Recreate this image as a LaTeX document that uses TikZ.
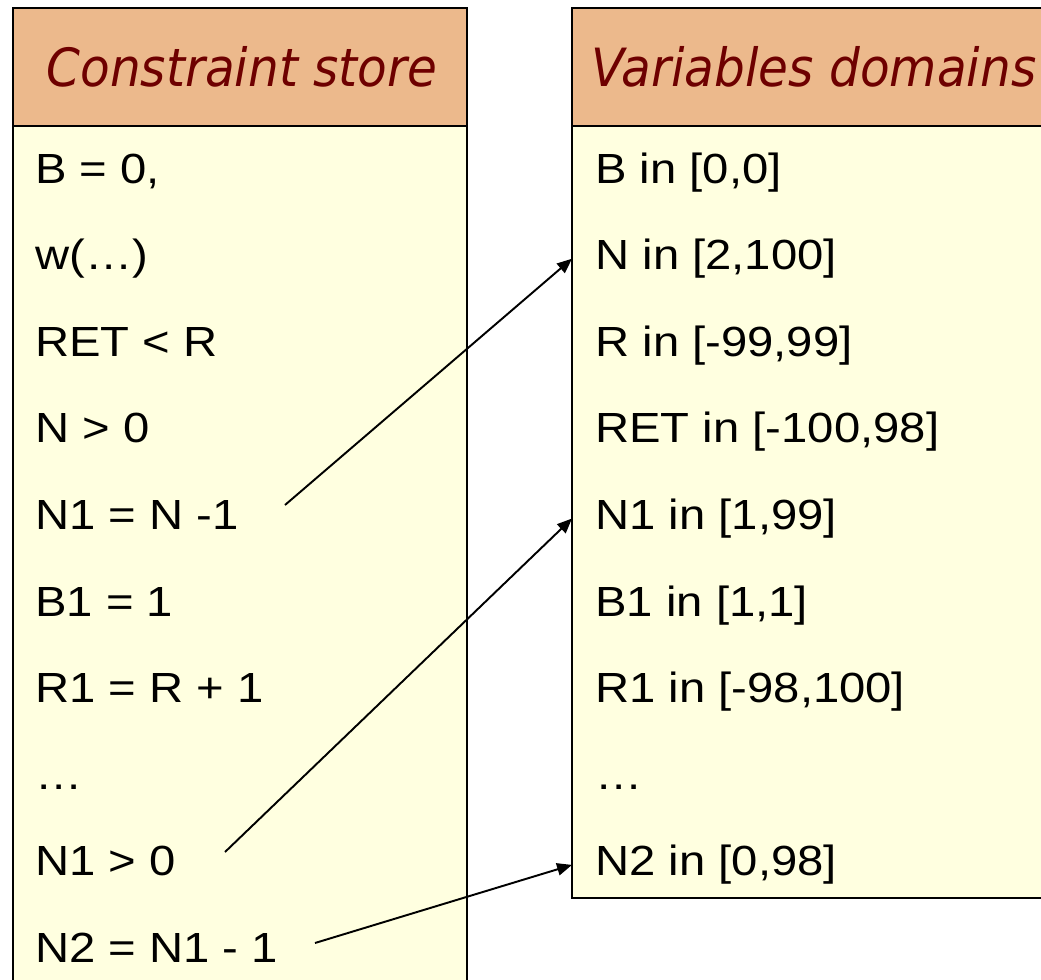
\documentclass[tikz,border=0pt]{standalone}
\usepackage{fontspec}
\setmainfont[FakeStretch=1.12]{Liberation Sans}
\newfontfamily\headfont[FakeStretch=0.92]{DejaVu Sans}
\usetikzlibrary{arrows.meta, positioning}

\definecolor{headfill}{RGB}{236,185,140}
\definecolor{bodyfill}{RGB}{255,255,224}
\definecolor{headtext}{RGB}{110,0,0}

\tikzset{
  cell/.style={anchor=base west, inner sep=0pt, font=\fontsize{24}{29}\selectfont},
  head/.style={inner sep=0pt, text=headtext, font=\headfont\itshape\fontsize{30}{36}\selectfont},
  link/.style={line width=1.1pt, -{Triangle[length=8.5pt,width=7pt]}}
}

\begin{document}
\begin{tikzpicture}[x=0.02cm, y=-0.02cm]
\useasboundingbox (0,0) rectangle (1041,980);
\clip (0,0) rectangle (1041,980);
% the two tables
\fill [headfill] (13,8) rectangle (467,126);
\fill [bodyfill] (13,126) rectangle (467,1000);
\draw [line width=1.1pt] (13,8) rectangle (467,1000);
\draw [line width=1.1pt] (13,126) -- (467,126);
\fill [headfill] (572,8) rectangle (1060,126);
\fill [bodyfill] (572,126) rectangle (1060,898);
\draw [line width=1.1pt] (572,8) rectangle (1060,898);
\draw [line width=1.1pt] (572,126) -- (1060,126);
\coordinate (domleft) at (572,126);
\node (storehead) at (242,67) [head] {Constraint store};
\node (domhead) at (814,67) [head] {Variables domains};
% constraint store rows
\node (s0) at (35,183.0) [cell] {B = 0,};
\node (s1) at (35,269.6) [cell] {w(…)};
\node (s2) at (35,356.2) [cell] {RET < R};
\node (s3) at (35,442.8) [cell] {N > 0};
\node (s4) at (35,529.4) [cell] {N1 = N -1};
\node (s5) at (35,616.0) [cell] {B1 = 1};
\node (s6) at (35,702.6) [cell] {R1 = R + 1};
\node (s7) at (35,789.2) [cell] {…};
\node (s8) at (35,875.8) [cell] {N1 > 0};
\node (s9) at (35,962.4) [cell] {N2 = N1 - 1};
% domain rows
\node (d0) at (595,183.0) [cell] {B in [0,0]};
\node (d1) at (595,269.6) [cell] {N in [2,100]};
\node (d2) at (595,356.2) [cell] {R in [-99,99]};
\node (d3) at (595,442.8) [cell] {RET in [-100,98]};
\node (d4) at (595,529.4) [cell] {N1 in [1,99]};
\node (d5) at (595,616.0) [cell] {B1 in [1,1]};
\node (d6) at (595,702.6) [cell] {R1 in [-98,100]};
\node (d7) at (595,789.2) [cell] {…};
\node (d8) at (595,875.8) [cell] {N2 in [0,98]};
% links
\coordinate (from4) at (285,505);
\coordinate (from8) at (225,852);
\coordinate (from9) at (315,943);
\draw [link] (from4) -- (d1 -| domleft);
\draw [link] (from8) -- (d4 -| domleft);
\draw [link] (from9) -- (d8 -| domleft);
\end{tikzpicture}
\end{document}
